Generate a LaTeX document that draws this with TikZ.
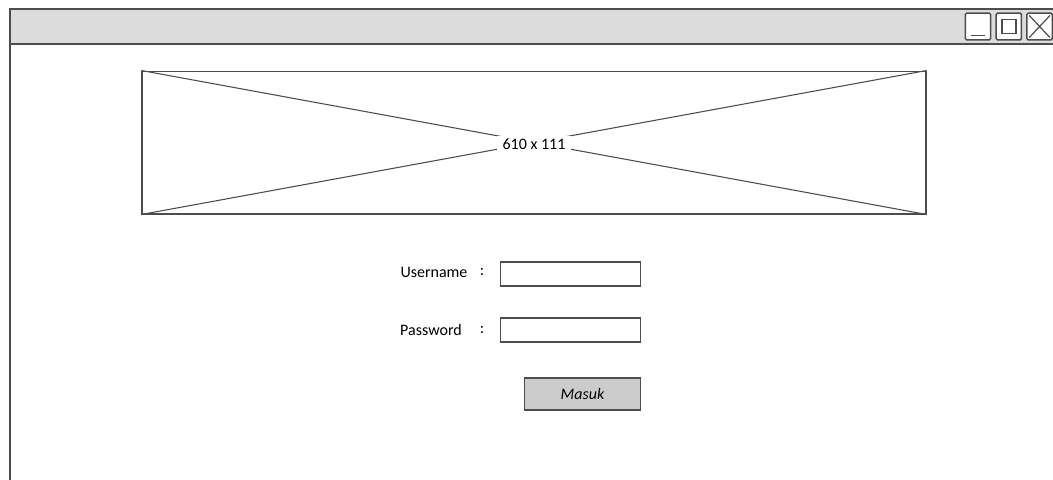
\documentclass[tikz,border=0pt]{standalone}
\usepackage{fontspec}
\setmainfont{Carlito}
\usepackage{xcolor}
\usetikzlibrary{positioning,calc}

\definecolor{titlegray}{HTML}{DCDCDC}
\definecolor{btngray}{HTML}{CCCCCC}
\definecolor{linegray}{HTML}{4D4D4D}

\begin{document}
\begin{tikzpicture}[x=0.75pt,y=-0.75pt,
    frame/.style={draw=linegray, line width=1.1pt},
    winbtn/.style={draw=linegray, line width=1.1pt, rounded corners=1pt, fill=white, minimum width=19pt, minimum height=20pt, inner sep=0pt},
    field/.style={draw=linegray, line width=0.9pt, fill=white, minimum width=105pt, minimum height=18pt, inner sep=0pt},
    lbl/.style={font=\fontsize{12}{14}\selectfont, inner sep=1pt},
    btn/.style={draw=linegray, line width=0.9pt, fill=btngray, minimum width=87pt, minimum height=24pt,
                font=\fontsize{12}{14}\selectfont\itshape}
  ]
  \useasboundingbox (0,0) rectangle (1053,479);
  \fill[white] (0,0) rectangle (1053,479);

  % window
  \fill[titlegray] (10,9) rectangle (1060,44);
  \draw[frame] (1060,9) -- (10,9) -- (10,490);
  \draw[frame] (10,44) -- (1060,44);

  % window buttons
  \node[winbtn] (minbtn) at (978,26.5) {};
  \node[winbtn, right=3pt of minbtn] (maxbtn) {};
  \node[winbtn, right=3pt of maxbtn] (closebtn) {};
  \draw[linegray, line width=1.1pt] ($(minbtn.south west)+(6,-5)$) -- ($(minbtn.south east)+(-6,-5)$);
  \draw[linegray, line width=1.1pt] ($(maxbtn.center)+(-7,-7)$) rectangle ($(maxbtn.center)+(7,7)$);
  \draw[linegray, line width=0.9pt] ($(closebtn.north west)+(3,3)$) -- ($(closebtn.south east)+(-3,-3)$)
                                    ($(closebtn.north east)+(-3,3)$) -- ($(closebtn.south west)+(3,-3)$);

  % image placeholder
  \node[draw=linegray, line width=1pt, minimum width=588pt, minimum height=107pt, inner sep=0pt] (banner) at (534,142.5) {};
  \draw[linegray, line width=0.8pt] (banner.north west) -- (banner.south east)
                                    (banner.north east) -- (banner.south west);
  \node[fill=white, lbl, inner xsep=4pt, inner ysep=2pt] (size) at (534,144) {610 x 111};

  % login form
  \node[field] (userfld) at (570.5,274) {};
  \node[field] (passfld) at (570.5,330) {};
  \node[lbl] (usercol) at (482,272) {:};
  \node[lbl] (passcol) at (482,330) {:};
  \node[lbl] (userlbl) at (434,272) {Username};
  \node[lbl] (passlbl) at (431,330) {Password};
  \node[btn] (masuk) at (582.5,394) {Masuk};
\end{tikzpicture}
\end{document}
